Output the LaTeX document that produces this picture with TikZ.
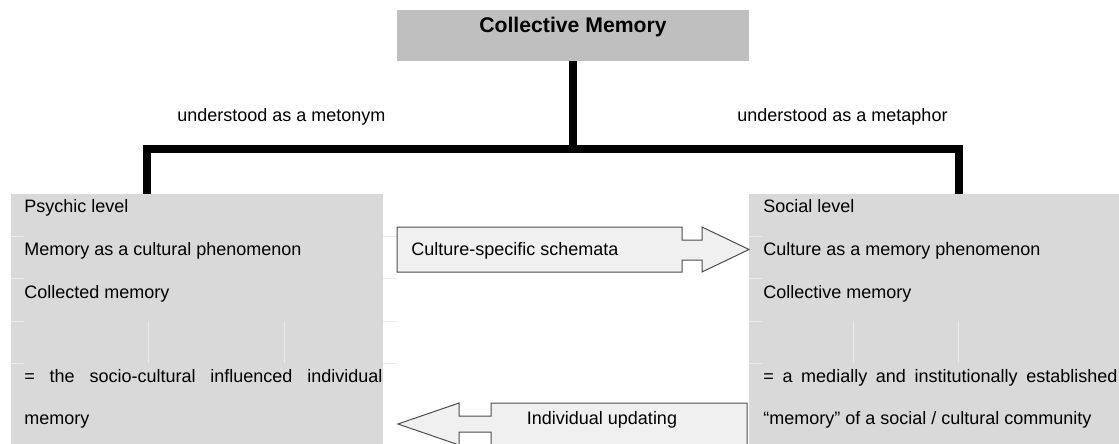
\documentclass[tikz,border=0pt]{standalone}
\usepackage{fontspec}
\setmainfont{Liberation Sans}

\tikzset{
  titlebox/.style={fill=black!25, minimum width=176pt, minimum height=25.5pt, inner sep=0pt},
  levelbox/.style={fill=black!15, anchor=north west, minimum height=125pt, inner sep=0pt},
  rowtext/.style={anchor=base west, inner sep=0pt, font=\fontsize{9}{11}\selectfont},
  branch/.style={line width=4pt, line join=miter},
  flowarrow/.style={draw=black!70, fill=black!6, line width=0.5pt},
  cellrule/.style={draw=black!8, line width=0.5pt}
}

\begin{document}
\begin{tikzpicture}[x=0.5pt,y=-0.5pt]
	\useasboundingbox (0,0) rectangle (1119,444);
	\clip (0,0) rectangle (1119,444);

	% Title
	\node[titlebox] (title) at (573,35.5) {};
	\node[anchor=base, inner sep=0pt, font=\fontsize{10.6}{12}\selectfont\bfseries]
		(titletext) at (573,33) {Collective Memory};

	% The two levels
	\node[levelbox, minimum width=186pt] (psychic) at (11,194) {};
	\node[levelbox, minimum width=185pt] (social) at (749,194) {};

	% Faint table rules
	\foreach \y in {236,278,321,363} {
		\draw[cellrule] (11,\y) -- (24,\y);
		\draw[cellrule] (383,\y) -- (397,\y);
		\draw[cellrule] (749,\y) -- (762,\y);
	}
	\foreach \x in {148,284,853,958}
		\draw[cellrule] (\x,321) -- (\x,363);

	% Branches
	\coordinate (fork) at (573,149);
	\coordinate (forkL) at (147,149);
	\coordinate (forkR) at (959,149);
	\draw[branch] (title.south) -- (fork);
	\draw[branch] (forkL |- psychic.north) -- (forkL) -- (forkR) -- (forkR |- social.north);

	\node[rowtext] (metonym) at (177,122) {understood as a metonym};
	\node[rowtext] (metaphor) at (737,122) {understood as a metaphor};

	% Psychic level texts
	\node[rowtext] (psy1) at (24,213) {Psychic level};
	\node[rowtext] (psy2) at (24,255) {Memory as a cultural phenomenon};
	\node[rowtext] (psy3) at (24,298) {Collected memory};
	\node[rowtext] (psy4) at (24,382)
		{\makebox[179pt][s]{= the socio-cultural influenced individual}};
	\node[rowtext] (psy5) at (24,424) {memory};

	% Social level texts
	\node[rowtext] (soc1) at (763,213) {Social level};
	\node[rowtext] (soc2) at (763,255) {Culture as a memory phenomenon};
	\node[rowtext] (soc3) at (763,298) {Collective memory};
	\node[rowtext] (soc4) at (763,382)
		{\makebox[177pt][s]{= a medially and institutionally established}};
	\node[rowtext] (soc5) at (763,424) {“memory” of a social / cultural community};

	% Arrow to the right
	\draw[flowarrow] (397,227) -- (682,227) -- (682,240) -- (702,240) -- (702,227)
		-- (749,249.5) -- (702,272) -- (702,260) -- (682,260) -- (682,272)
		-- (397,272) -- cycle;
	\node[rowtext] (schemata) at (411,255.5) {Culture-specific schemata};

	% Arrow to the left
	\draw[flowarrow] (747,403) -- (491,403) -- (491,416) -- (459,416) -- (459,403)
		-- (398,424) -- (459,445) -- (459,432) -- (491,432) -- (491,445)
		-- (747,445) -- cycle;
	\node[rowtext, anchor=base] (updating) at (602,424) {Individual updating};
\end{tikzpicture}
\end{document}
